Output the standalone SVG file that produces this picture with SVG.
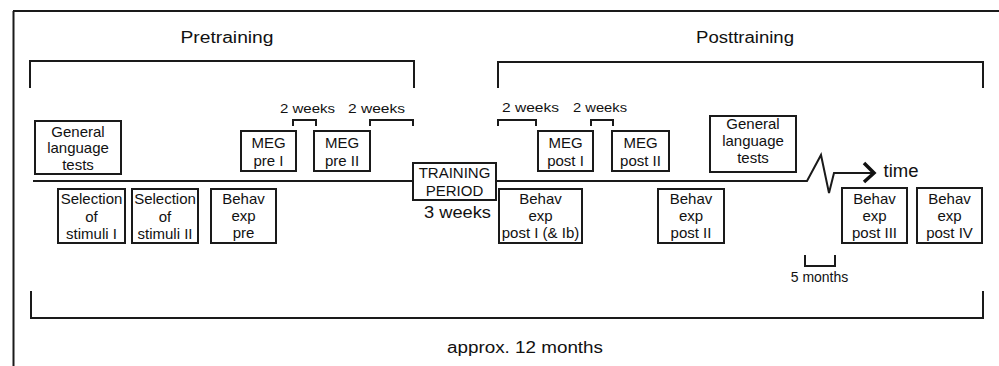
<svg xmlns="http://www.w3.org/2000/svg" width="999" height="366" viewBox="0 0 999 366">
<style>
text{font-family:"Liberation Sans",Arial,Helvetica,sans-serif;fill:#111;text-anchor:middle}
.b{fill:#fff;stroke:#1a1a1a;stroke-width:2}
.t{font-size:15px}
.ln{fill:none;stroke:#1a1a1a;stroke-width:2}
.br{fill:none;stroke:#1a1a1a;stroke-width:2}
.sm{font-size:13px}
.big{font-size:16px}
</style>
<rect x="0" y="0" width="999" height="366" fill="#fff"/>
<g id="frame">
<path class="ln" d="M13,11 H999 M13.5,11 V366"/>
</g>
<g id="connectors">
<path class="ln" d="M33,181 H413 M496,181 H807 L821,155 L829,193 L834,173 H872"/>
<path d="M864,163 L874,173 L864,182" fill="none" stroke="#111" stroke-width="3.5"/>
<path class="br" d="M30,88 V61 H414 V88"/>
<path class="br" d="M498,88 V62 H983 V88"/>
<path class="br" d="M31,291 V318 H983 V291"/>
<path class="br" d="M293,126 V120 H316 V126 M370,126 V120 H413 V126"/>
<path class="br" d="M498,126 V120 H536 V126 M591,126 V120 H613 V126"/>
<path class="br" d="M805,255 V266 H835 V255"/>
</g>
<g id="labels">
<text x="227" y="43" class="big" textLength="93" lengthAdjust="spacingAndGlyphs">Pretraining</text>
<text x="745" y="43" class="big" textLength="98" lengthAdjust="spacingAndGlyphs">Posttraining</text>
<text x="307.5" y="112.5" class="sm" textLength="55" lengthAdjust="spacingAndGlyphs">2 weeks</text>
<text x="376.5" y="112.5" class="sm" textLength="57" lengthAdjust="spacingAndGlyphs">2 weeks</text>
<text x="530.5" y="112" class="sm" textLength="57" lengthAdjust="spacingAndGlyphs">2 weeks</text>
<text x="600" y="112" class="sm" textLength="54" lengthAdjust="spacingAndGlyphs">2 weeks</text>
<text x="457.5" y="218" style="font-size:17px" textLength="67" lengthAdjust="spacingAndGlyphs">3 weeks</text>
<text x="901" y="177" style="font-size:18px" textLength="35" lengthAdjust="spacingAndGlyphs">time</text>
<text x="819.5" y="282" style="font-size:14px">5 months</text>
<text x="525" y="353" class="big" textLength="156" lengthAdjust="spacingAndGlyphs">approx. 12 months</text>
</g>
<g id="gen-pre">
<rect class="b" x="35" y="121" width="86" height="53"/>
<text class="t" x="78" y="137">General</text>
<text class="t" x="78" y="153">language</text>
<text class="t" x="78" y="170">tests</text>
</g>
<g id="meg-pre1">
<rect class="b" x="241" y="131" width="55" height="40"/>
<text class="t" x="268.5" y="147.5">MEG</text>
<text class="t" x="268.5" y="165.5">pre I</text>
</g>
<g id="meg-pre2">
<rect class="b" x="314" y="131" width="56" height="40"/>
<text class="t" x="342" y="147.5">MEG</text>
<text class="t" x="342" y="165.5">pre II</text>
</g>
<g id="sel1">
<rect class="b" x="58" y="189" width="67" height="54"/>
<text class="t" x="91.5" y="204">Selection</text>
<text class="t" x="91.5" y="222">of</text>
<text class="t" x="91.5" y="239">stimuli I</text>
</g>
<g id="sel2">
<rect class="b" x="132" y="189" width="66" height="54"/>
<text class="t" x="165" y="204">Selection</text>
<text class="t" x="165" y="222">of</text>
<text class="t" x="165" y="239">stimuli II</text>
</g>
<g id="behav-pre">
<rect class="b" x="211" y="189" width="65" height="54"/>
<text class="t" x="243.5" y="204">Behav</text>
<text class="t" x="243.5" y="221">exp</text>
<text class="t" x="243.5" y="238">pre</text>
</g>
<g id="training">
<rect class="b" x="413" y="163" width="83" height="37"/>
<text class="t" x="454.5" y="178">TRAINING</text>
<text class="t" x="454.5" y="196">PERIOD</text>
</g>
<g id="meg-post1">
<rect class="b" x="538" y="131" width="55" height="40"/>
<text class="t" x="565.5" y="147.5">MEG</text>
<text class="t" x="565.5" y="165.5">post I</text>
</g>
<g id="meg-post2">
<rect class="b" x="612" y="131" width="57" height="40"/>
<text class="t" x="640.5" y="147.5">MEG</text>
<text class="t" x="640.5" y="165.5">post II</text>
</g>
<g id="behav-post1">
<rect class="b" x="499" y="189" width="83" height="54"/>
<text class="t" x="540.5" y="204">Behav</text>
<text class="t" x="540.5" y="221">exp</text>
<text class="t" x="540.5" y="238">post I (&amp; Ib)</text>
</g>
<g id="behav-post2">
<rect class="b" x="658" y="189" width="66" height="54"/>
<text class="t" x="691" y="204">Behav</text>
<text class="t" x="691" y="221">exp</text>
<text class="t" x="691" y="238">post II</text>
</g>
<g id="gen-post">
<rect class="b" x="710" y="116" width="86" height="56"/>
<text class="t" x="753" y="129">General</text>
<text class="t" x="753" y="146">language</text>
<text class="t" x="753" y="163">tests</text>
</g>
<g id="behav-post3">
<rect class="b" x="842" y="188" width="65" height="55"/>
<text class="t" x="874.5" y="204">Behav</text>
<text class="t" x="874.5" y="221">exp</text>
<text class="t" x="874.5" y="238">post III</text>
</g>
<g id="behav-post4">
<rect class="b" x="917" y="188" width="65" height="55"/>
<text class="t" x="949.5" y="204">Behav</text>
<text class="t" x="949.5" y="221">exp</text>
<text class="t" x="949.5" y="238">post IV</text>
</g>
</svg>
